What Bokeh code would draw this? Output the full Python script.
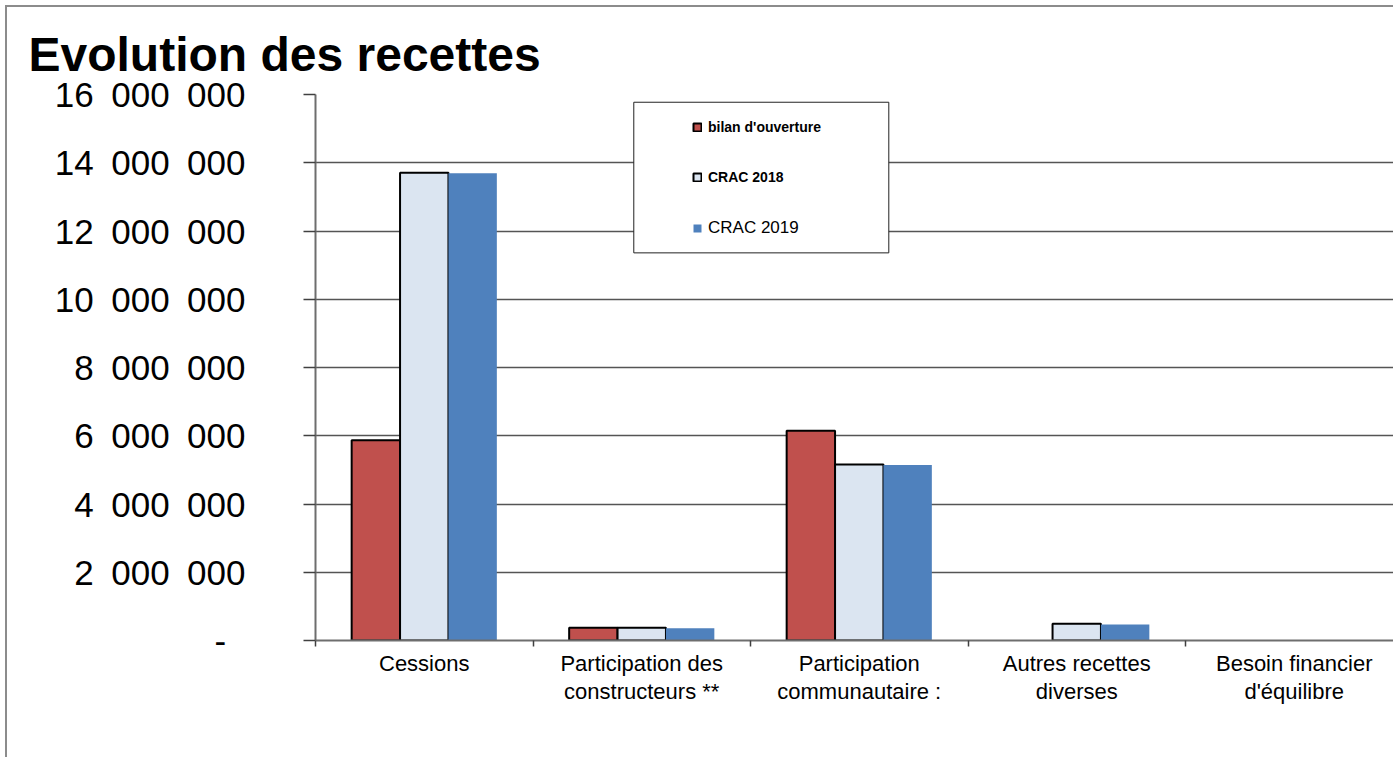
from bokeh.plotting import figure
from bokeh.models import (Range1d, FixedTicker, Legend, LegendItem, BoxAnnotation,
                          ColumnDataSource)
from bokeh.transform import dodge
from bokeh.embed import file_html
from bokeh.resources import INLINE

# ---------------- data ----------------
categories = ["Cessions", "Participation des constructeurs **", "Participation communautaire :",
              "Autres recettes diverses", "Besoin financier d'équilibre"]
category_labels = ["Cessions", "Participation des\nconstructeurs **", "Participation\ncommunautaire :",
                   "Autres recettes\ndiverses", "Besoin financier\nd'équilibre"]
series_names = ["bilan d'ouverture", "CRAC 2018", "CRAC 2019"]
bilan_ouverture = [5_870_000, 370_000, 6_150_000, 0, 0]
crac_2018 = [13_710_000, 370_000, 5_160_000, 490_000, 0]
crac_2019 = [13_690_000, 360_000, 5_140_000, 470_000, 0]
y_ticks = [0, 2_000_000, 4_000_000, 6_000_000, 8_000_000, 10_000_000, 12_000_000, 14_000_000, 16_000_000]
y_tick_labels = ["-\u00a0\u00a0", "2\u2002000\u2002000", "4\u2002000\u2002000", "6\u2002000\u2002000",
                 "8\u2002000\u2002000", "10\u2002000\u2002000", "12\u2002000\u2002000",
                 "14\u2002000\u2002000", "16\u2002000\u2002000"]

FONT = "Liberation Sans"
idx = list(range(len(categories)))

src = ColumnDataSource(dict(
    idx=idx,
    bilan=bilan_ouverture,
    crac18=crac_2018,
    crac19=crac_2019,
    a_bilan=[1.0 if v > 0 else 0.0 for v in bilan_ouverture],
    a_crac18=[1.0 if v > 0 else 0.0 for v in crac_2018],
))

W, H = 1388, 752
p = figure(width=W, height=H, output_backend="svg", toolbar_location=None,
           x_range=Range1d(-0.5, -0.5 + 1080 / 217.5), y_range=Range1d(0, 16_000_000),
           min_border_left=308, min_border_right=0, min_border_top=87, min_border_bottom=119,
           title="Evolution des recettes",
           styles={"margin-left": "5px", "margin-top": "5px",
                   "border-left": "2px solid #8c8c8c", "border-top": "2px solid #8c8c8c"})
p.outline_line_color = None
p.background_fill_color = "white"
p.border_fill_color = "white"

# title
p.title.text_font = FONT
p.title.text_font_size = "48px"
p.title.text_font_style = "bold"
p.title.text_color = "black"
p.title.align = "left"
p.title.offset = -287
p.title.standoff = 28

bw = 0.2225
r1 = p.vbar(x=dodge("idx", -bw, range=p.x_range), top="bilan", width=bw, source=src,
            fill_color="#C0504D", line_color="black", line_width=2, line_alpha="a_bilan")
r2 = p.vbar(x=dodge("idx", 0, range=p.x_range), top="crac18", width=bw, source=src,
            fill_color="#DBE5F1", line_color="black", line_width=2, line_alpha="a_crac18")
r3 = p.vbar(x=dodge("idx", bw, range=p.x_range), top="crac19", width=bw, source=src,
            fill_color="#4F81BD", line_color=None)

# y axis
yax = p.yaxis[0]
yax.ticker = FixedTicker(ticks=y_ticks, minor_ticks=[])
yax.major_label_overrides = {t: l for t, l in zip(y_ticks, y_tick_labels)}
yax.major_label_text_font = FONT
yax.major_label_text_font_size = "35px"
yax.major_label_text_color = "black"
yax.major_label_standoff = 58
yax.major_tick_out = 12
yax.major_tick_in = 0
yax.major_tick_line_color = "#404040"
yax.major_tick_line_width = 1.5
yax.axis_line_color = "#6e6e6e"
yax.axis_line_width = 2

# x axis
xax = p.xaxis[0]
xax.ticker = FixedTicker(ticks=idx, minor_ticks=[i - 0.5 for i in idx] + [len(idx) - 0.5])
xax.major_label_overrides = {i: l for i, l in zip(idx, category_labels)}
xax.major_label_text_font = FONT
xax.major_label_text_font_size = "22px"
xax.major_label_text_line_height = 1.14
xax.major_label_text_color = "black"
xax.major_label_standoff = 4
xax.major_tick_out = 0
xax.major_tick_in = 0
xax.minor_tick_out = 6
xax.minor_tick_in = 0
xax.minor_tick_line_color = "#404040"
xax.minor_tick_line_width = 1.5
xax.axis_line_color = "#6e6e6e"
xax.axis_line_width = 2

p.xgrid.visible = False
p.ygrid.ticker = FixedTicker(ticks=y_ticks)
p.ygrid.grid_line_color = "#555555"
p.ygrid.grid_line_width = 1.5

# legend box
box = BoxAnnotation(left=0.9634, right=2.1359, bottom=11_359_000, top=15_773_000,
                    fill_color="white", fill_alpha=1.0, line_color="#222222",
                    line_alpha=1.0, line_width=1)
p.add_layout(box)

renderers = [r1, r2, r3]
legend_y = [504.7, 454.8, 401.8]
for k, (name, r) in enumerate(zip(series_names, renderers)):
    bold = k < 2
    lg = Legend(items=[LegendItem(label=name, renderers=[r])],
                location=(377, legend_y[k]), padding=0, margin=0, spacing=0,
                border_line_color=None, background_fill_alpha=0,
                glyph_width=10, glyph_height=10, label_standoff=6,
                label_height=16 if bold else 20,
                label_text_font=FONT,
                label_text_font_style="bold" if bold else "normal",
                label_text_font_size="14px" if bold else "17px",
                label_text_color="black")
    p.add_layout(lg)

open("out.html", "w").write(file_html(p, INLINE))
